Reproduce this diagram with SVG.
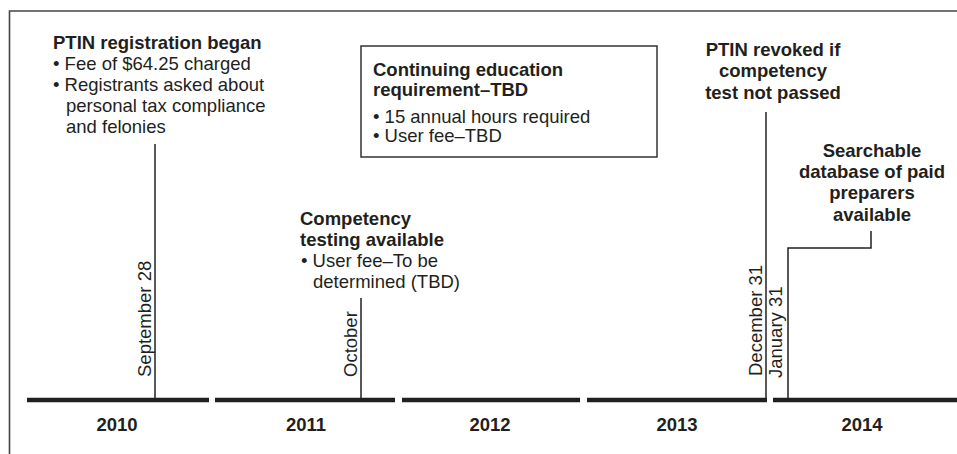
<svg xmlns="http://www.w3.org/2000/svg" width="957" height="454" viewBox="0 0 957 454">
<style>
text{font-family:"Liberation Sans",Arial,sans-serif;font-size:18.5px;fill:#231f20}
.b{font-weight:bold}
.c{text-anchor:middle}
.ln{stroke:#231f20;stroke-width:1.5;fill:none}
.bar{stroke:#231f20;stroke-width:4.5;fill:none}
.frame{stroke:#444;stroke-width:1.6;fill:none}
</style>
<rect width="957" height="454" fill="#fff"/>
<path class="frame" d="M9.5,454 V11 H957"/>
<g id="timeline">
<line class="bar" x1="27" y1="400" x2="209" y2="400"/>
<line class="bar" x1="215" y1="400" x2="395" y2="400"/>
<line class="bar" x1="402" y1="400" x2="580" y2="400"/>
<line class="bar" x1="587" y1="400" x2="767" y2="400"/>
<line class="bar" x1="773" y1="400" x2="957" y2="400"/>
<text class="b c" x="117" y="431">2010</text>
<text class="b c" x="306" y="431">2011</text>
<text class="b c" x="490" y="431">2012</text>
<text class="b c" x="677" y="431">2013</text>
<text class="b c" x="862" y="431">2014</text>
</g>
<g id="connectors">
<line class="ln" x1="155" y1="144" x2="155" y2="400"/>
<line class="ln" x1="361" y1="298" x2="361" y2="400"/>
<line class="ln" x1="766" y1="112" x2="766" y2="400"/>
<path class="ln" d="M788,400 V248 H871 V231"/>
</g>
<g id="ptin-registration">
<text x="53" y="49" class="b">PTIN registration began</text>
<text x="53" y="70">• Fee of $64.25 charged</text>
<text x="53" y="91">• Registrants asked about</text>
<text x="66" y="112">personal tax compliance</text>
<text x="66" y="133">and felonies</text>
<text transform="translate(151,377) rotate(-90)">September 28</text>
</g>
<g id="continuing-education">
<rect x="361" y="46" width="296" height="111" fill="none" stroke="#333" stroke-width="1.5"/>
<text x="373" y="76" class="b">Continuing education</text>
<text x="373" y="96" class="b">requirement–TBD</text>
<text x="373" y="123">• 15 annual hours required</text>
<text x="373" y="142">• User fee–TBD</text>
</g>
<g id="competency-testing">
<text x="300" y="225" class="b">Competency</text>
<text x="300" y="246" class="b">testing available</text>
<text x="301" y="267">• User fee–To be</text>
<text x="313" y="288">determined (TBD)</text>
<text transform="translate(357,377) rotate(-90)">October</text>
</g>
<g id="ptin-revoked">
<text x="773" y="56" class="b c">PTIN revoked if</text>
<text x="773" y="77" class="b c">competency</text>
<text x="773" y="99" class="b c">test not passed</text>
<text transform="translate(762,376) rotate(-90)">December 31</text>
</g>
<g id="searchable-database">
<text x="872" y="157" class="b c">Searchable</text>
<text x="872" y="178" class="b c">database of paid</text>
<text x="872" y="199" class="b c">preparers</text>
<text x="872" y="221" class="b c">available</text>
<text transform="translate(782,378) rotate(-90)">January 31</text>
</g>
</svg>
